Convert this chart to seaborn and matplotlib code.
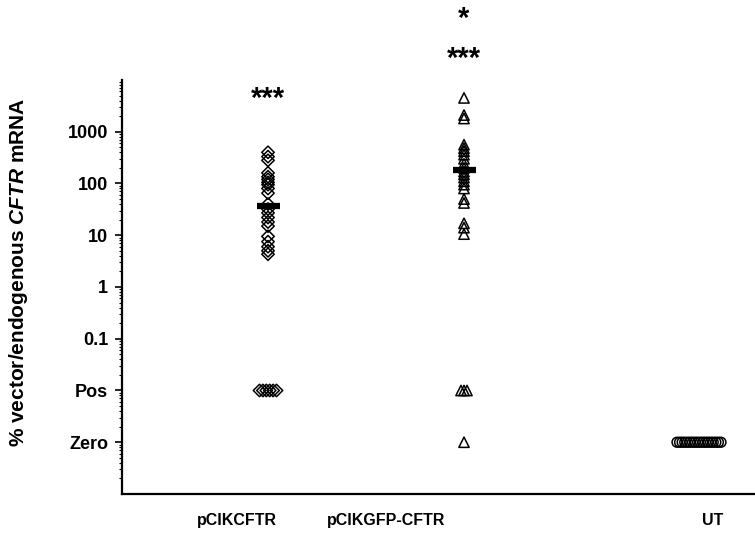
import numpy as np
import pandas as pd
import seaborn as sns
import matplotlib.pyplot as plt
from matplotlib.ticker import LogLocator, NullFormatter

# --- data ---
groups = ["pCIKCFTR", "pCIKGFP-CFTR", "UT"]
pcik_values = [400, 330, 280, 160, 135, 120, 105, 95, 80, 65, 40, 32, 27, 22, 18, 15,
               9.5, 7.5, 6, 5, 4.3, "Pos", "Pos", "Pos", "Pos", "Pos", "Pos"]
gfp_values = [4500, 2100, 1800, 560, 480, 420, 360, 300, 240, 200, 170, 150, 130, 110,
              95, 80, 50, 42, 17, 14, 10.5, "Pos", "Pos", "Pos", "Zero"]
ut_values = ["Zero"] * 18
bar_values = [36, 180, None]
stars = [["***"], ["***", "*"], []]
star_heights = [[4300], [25000, 150000], []]

ytick_values = [1000, 100, 10, 1, 0.1, 0.01, 0.001]
ytick_labels = ["1000", "100", "10", "1", "0.1", "Pos", "Zero"]
special = {"Pos": 0.01, "Zero": 0.001}

# --- layout ---
group_x = [1.46, 3.42, 5.77]
label_x = [1.15, 2.64, 5.91]
row_spread = [0.085, 0.03, 0.22]
markers = ["D", "^", "o"]
marker_size = [40, 55, 50]

sns.set_theme(style="ticks")
plt.rcParams["font.family"] = ["Liberation Sans", "DejaVu Sans"]
plt.rcParams["mathtext.fontset"] = "custom"
plt.rcParams["mathtext.it"] = "Liberation Sans:bold:italic"
plt.rcParams["mathtext.rm"] = "Liberation Sans:bold"
for key in ["text.color", "axes.labelcolor", "xtick.color", "ytick.color"]:
    plt.rcParams[key] = "black"

rows = []
for g, gx, spread, vals in zip(groups, group_x, row_spread,
                               [pcik_values, gfp_values, ut_values]):
    for key in ["Pos", "Zero"]:
        n = sum(1 for v in vals if v == key)
        offs = np.linspace(-spread, spread, n) if n > 1 else [0.0] * n
        for o in offs:
            rows.append((g, gx + o, special[key]))
    for v in vals:
        if not isinstance(v, str):
            rows.append((g, gx, float(v)))
df = pd.DataFrame(rows, columns=["group", "x", "value"])

fig = plt.figure(figsize=(7.55, 5.36), dpi=100)
ax = fig.add_axes([0.1616, 0.0784, 0.8384, 0.7724])

for g, m, s in zip(groups, markers, marker_size):
    sub = df[df["group"] == g]
    sns.scatterplot(data=sub, x="x", y="value", marker=m, s=s, facecolors="none",
                    edgecolor="black", linewidth=1.1, ax=ax, legend=False, zorder=3)

for gx, b in zip(group_x, bar_values):
    if b is not None:
        ax.hlines(b, gx - 0.115, gx + 0.115, color="black", linewidth=4.5, zorder=4)

for gx, ss, hs in zip(group_x, stars, star_heights):
    for s, h in zip(ss, hs):
        ax.text(gx, h, s, ha="center", va="center", fontsize=21, fontweight="bold",
                color="black", clip_on=False)

ax.set_yscale("log")
ax.set_ylim(1e-4, 1e4)
ax.set_xlim(0, 6.33)
ax.set_yticks(ytick_values)
ax.set_yticklabels(ytick_labels)
ax.yaxis.set_minor_locator(LogLocator(base=10, subs=np.arange(2, 10), numticks=20))
ax.yaxis.set_minor_formatter(NullFormatter())
ax.set_xticks(label_x)
ax.set_xticklabels(groups)
ax.tick_params(axis="x", length=0, pad=14, labelsize=11.5, colors="black")
ax.tick_params(axis="y", which="major", length=5, width=1.2, pad=5, labelsize=13,
               colors="black")
ax.tick_params(axis="y", which="minor", length=2.5, width=0.8, colors="black")
for lab in ax.get_xticklabels() + ax.get_yticklabels():
    lab.set_fontweight("bold")

ax.set_xlabel("")
ax.set_ylabel(r"% vector/endogenous $\it{CFTR}$ mRNA", fontsize=15, fontweight="bold",
              color="black")
ax.yaxis.set_label_coords(-0.145, 0.535)

sns.despine(ax=ax)
for sp in ["left", "bottom"]:
    ax.spines[sp].set_linewidth(1.6)
    ax.spines[sp].set_color("black")

fig.savefig("out.png", dpi=100)
